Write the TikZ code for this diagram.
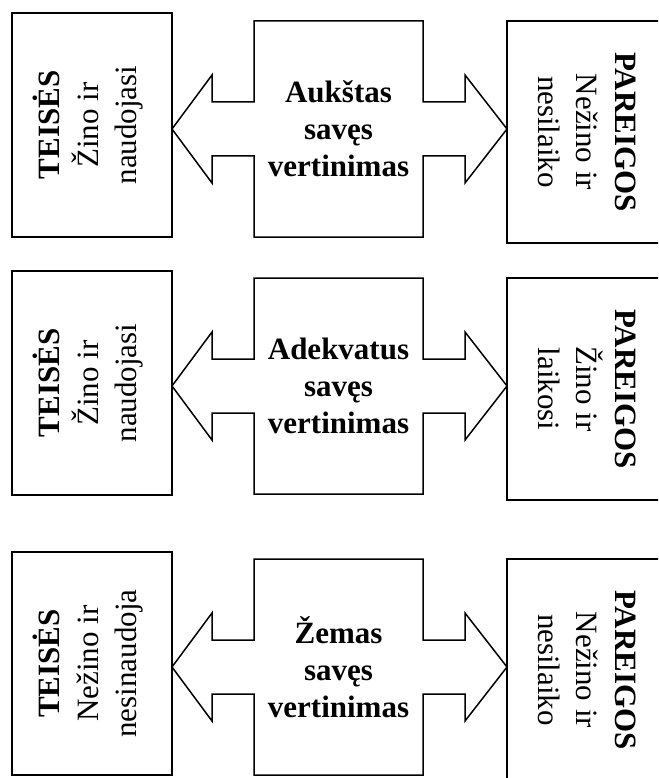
\documentclass[tikz,border=0pt]{standalone}
\usepackage{fontspec}
\setmainfont{Liberation Serif}
\begin{document}
\begin{tikzpicture}[x=1pt,y=-1pt,
  frame/.style={draw,line width=1.5pt,inner sep=0pt},
  lbox/.style={frame,minimum width=160,minimum height=#1},
  vtext/.style={align=center,inner sep=0pt,font=\fontsize{31}{38.5}\selectfont},
  ltext/.style={vtext,rotate=90},
  rtext/.style={vtext,rotate=-90},
  arrowshape/.style={draw,line width=1.5pt,line join=miter},
  ctext/.style={align=center,font=\fontsize{31}{37}\selectfont\bfseries}]
\useasboundingbox (0,0) rectangle (658,778);
\clip (0,0) rectangle (658,778);

% double arrow with square: #1 top, #2 bottom, #3 tip y
\newcommand{\crossarrow}[3]{%
  \draw[arrowshape] (172,#3) -- (212,#3-54) -- (212,#3-27) -- (254,#3-27)
    -- (254,#1) -- (423,#1) -- (423,#3-27) -- (465,#3-27) -- (465,#3-54)
    -- (507,#3) -- (465,#3+54) -- (465,#3+27) -- (423,#3+27) -- (423,#2)
    -- (254,#2) -- (254,#3+27) -- (212,#3+27) -- (212,#3+54) -- cycle;}

% Row 1
\crossarrow{21}{237}{129}
\node[lbox=224] (l1) at (92,125) {};
\node[ltext] (l1t) at (88.5,125) {\textbf{TEISĖS}\\Žino ir\\naudojasi};
\node[lbox=222] (r1) at (587,132) {};
\node[rtext] (r1t) at (587,132) {\textbf{PAREIGOS}\\Nežino ir\\nesilaiko};
\node[ctext] (c1) at (338.5,129) {Aukštas\\savęs\\vertinimas};

% Row 2
\crossarrow{278}{494}{386}
\node[lbox=224] (l2) at (92,383) {};
\node[ltext] (l2t) at (88.5,383) {\textbf{TEISĖS}\\Žino ir\\naudojasi};
\node[lbox=222] (r2) at (587,389) {};
\node[rtext] (r2t) at (587,389) {\textbf{PAREIGOS}\\Žino ir\\laikosi};
\node[ctext] (c2) at (338.5,386) {Adekvatus\\savęs\\vertinimas};

% Row 3
\crossarrow{559}{775}{667}
\node[lbox=223] (l3) at (92,663.5) {};
\node[ltext] (l3t) at (88.5,663.5) {\textbf{TEISĖS}\\Nežino ir\\nesinaudoja};
\node[lbox=222] (r3) at (587,670) {};
\node[rtext] (r3t) at (587,670) {\textbf{PAREIGOS}\\Nežino ir\\nesilaiko};
\node[ctext] (c3) at (338.5,667) {Žemas\\savęs\\vertinimas};
\end{tikzpicture}
\end{document}
